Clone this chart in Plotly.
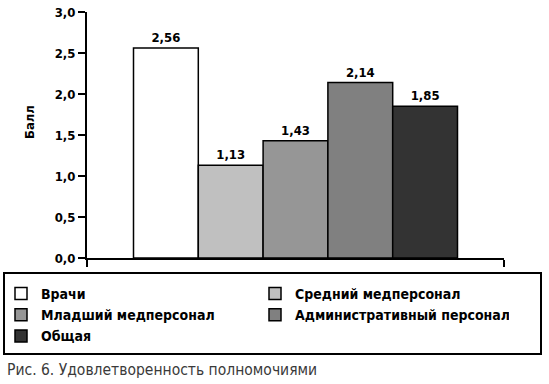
import plotly.graph_objects as go

categories = ["Врачи", "Средний медперсонал", "Младший медперсонал",
              "Административный персонал", "Общая"]
values = [2.56, 1.13, 1.43, 2.14, 1.85]
colors = ["#ffffff", "#c0c0c0", "#969696", "#808080", "#333333"]
y_title = "Балл"
caption = "Рис. 6. Удовлетворенность полномочиями"

FONT = "DejaVu Sans Condensed, Liberation Sans Narrow, Arial Narrow, sans-serif"
CAPFONT = "Liberation Sans Narrow, Arial Narrow, DejaVu Sans Condensed, sans-serif"

fig = go.Figure()
for name, v, c in zip(categories, values, colors):
    fig.add_trace(go.Bar(
        x=[""], y=[v], name=name,
        marker=dict(color=c, line=dict(color="black", width=1.5)),
        texttemplate="%{y:.2f}", textposition="outside",
        textfont=dict(family=FONT, size=13, color="black", weight="bold"),
        cliponaxis=False,
    ))

W, H = 549, 384
L, R, T, B = 87, 45, 12, 126
pw, ph = W - L - R, H - T - B

def px(x):
    return (x - L) / pw

def py(y):
    return (H - B - y) / ph

fig.update_layout(
    width=W, height=H,
    margin=dict(l=L, r=R, t=T, b=B, autoexpand=False),
    paper_bgcolor="white", plot_bgcolor="white",
    barmode="group", bargap=0.223, bargroupgap=0,
    separators=", ",
    font=dict(family=FONT, color="black"),
    showlegend=True,
    legend=dict(
        orientation="h", x=px(1), xanchor="left", y=py(278), yanchor="top",
        entrywidth=209, entrywidthmode="pixels",
        font=dict(family=FONT, size=14, color="black", weight="bold"),
        bgcolor="rgba(0,0,0,0)", borderwidth=0,
        itemwidth=30, traceorder="normal",
    ),
    xaxis=dict(
        showline=True, linecolor="black", linewidth=2,
        ticks="outside", tickson="boundaries", ticklen=7, tickwidth=2, tickcolor="black",
        showticklabels=False, showgrid=False, zeroline=False,
        range=[-0.5, 0.5],
    ),
    yaxis=dict(
        range=[0, 3], dtick=0.5, tick0=0, tickformat=".1f",
        showline=True, linecolor="black", linewidth=2,
        ticks="outside", ticklen=7, tickwidth=2, tickcolor="black",
        showgrid=False, zeroline=False,
        tickfont=dict(family=FONT, size=13, color="black", weight="bold"),
    ),
    shapes=[dict(
        type="rect", xref="paper", yref="paper",
        x0=px(4), x1=px(541), y0=py(273), y1=py(354),
        line=dict(color="black", width=2), fillcolor="rgba(0,0,0,0)",
        layer="below",
    )],
    annotations=[
        dict(text=y_title, xref="paper", yref="paper", x=px(29), y=py(122),
             xanchor="center", yanchor="middle", textangle=-90, showarrow=False,
             font=dict(family=FONT, size=13, color="black", weight="bold")),
        dict(text=caption, xref="paper", yref="paper", x=px(5), y=py(370),
             xanchor="left", yanchor="middle", showarrow=False,
             font=dict(family=CAPFONT, size=15.5, color="#3a3a3a")),
    ],
)

fig.write_html("out.html", config={"displayModeBar": False},
               post_script="document.body.style.margin='0';")
